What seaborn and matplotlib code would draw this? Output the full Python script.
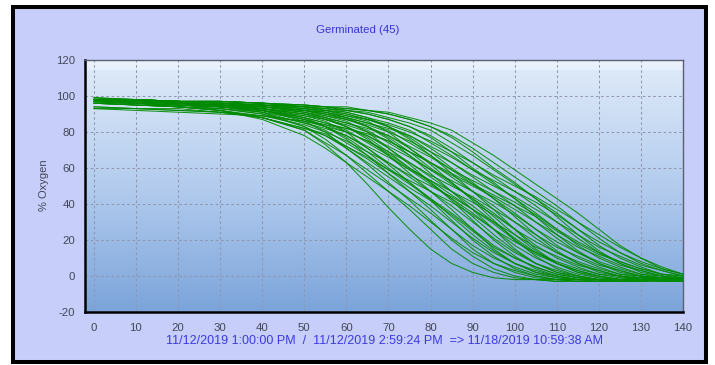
import numpy as np
import pandas as pd
import matplotlib
matplotlib.use("Agg")
import matplotlib.pyplot as plt
from matplotlib.colors import LinearSegmentedColormap
from matplotlib.patches import Rectangle
from matplotlib.ticker import MultipleLocator
import seaborn as sns

# sample times (minutes) at which the oxygen readings were taken
time_min = [0, 10, 20, 30, 40, 50, 55, 60, 65, 70, 75, 80,
            85, 90, 95, 100, 105, 110, 115, 120, 125, 130, 135, 140]

# % oxygen per seed, one row per germinated seed (45)
oxygen_curves = [
    [94, 93, 93, 91, 88, 81, 73, 63, 51, 38, 26, 15, 7, 2, -1, -2, -2, -3, -2, -2, -2, -2, -2, -2],
    [97, 97, 96, 94, 91, 83, 76, 67, 57, 47, 37, 26, 15, 7, 2, -1, -2, -3, -3, -3, -2, -2, -2, -2],
    [96, 95, 94, 92, 87, 78, 71, 63, 55, 47, 39, 30, 21, 13, 7, 3, 0, -2, -2, -2, -2, -2, -1, -1],
    [97, 97, 96, 95, 92, 86, 80, 71, 62, 52, 42, 31, 20, 11, 4, 0, -2, -2, -2, -2, -2, -2, -2, -2],
    [97, 96, 94, 92, 88, 81, 74, 67, 59, 51, 43, 35, 26, 17, 10, 5, 1, -1, -2, -3, -3, -2, -2, -2],
    [98, 97, 96, 95, 93, 88, 83, 76, 67, 57, 47, 37, 26, 15, 7, 2, -1, -2, -2, -2, -1, -1, -1, -1],
    [97, 96, 95, 93, 90, 83, 78, 71, 63, 55, 47, 39, 30, 21, 13, 7, 3, 0, -2, -2, -2, -2, -2, -2],
    [98, 97, 96, 95, 93, 89, 86, 80, 71, 62, 52, 42, 31, 20, 11, 4, 0, -2, -3, -3, -3, -3, -2, -2],
    [97, 96, 95, 94, 91, 85, 81, 74, 67, 59, 51, 43, 35, 26, 17, 10, 5, 1, -1, -2, -2, -2, -2, -2],
    [98, 97, 97, 96, 94, 91, 88, 83, 76, 67, 57, 47, 37, 26, 15, 7, 2, -1, -2, -2, -2, -1, -1, -2],
    [97, 96, 95, 94, 92, 87, 83, 78, 71, 63, 55, 47, 39, 30, 21, 13, 7, 3, 0, -2, -2, -3, -3, -3],
    [96, 95, 94, 92, 88, 82, 78, 72, 66, 59, 53, 47, 41, 34, 26, 19, 13, 8, 4, 1, 0, -2, -2, -2],
    [99, 98, 97, 96, 95, 92, 89, 86, 80, 71, 62, 52, 42, 31, 20, 11, 4, 0, -2, -2, -2, -2, -2, -1],
    [97, 97, 96, 94, 92, 88, 85, 81, 74, 67, 59, 51, 43, 35, 26, 17, 10, 5, 1, -1, -2, -2, -2, -2],
    [96, 95, 94, 92, 89, 84, 80, 75, 69, 63, 56, 50, 44, 37, 30, 23, 16, 11, 6, 3, 0, -1, -2, -2],
    [98, 98, 97, 96, 95, 93, 91, 88, 83, 76, 67, 57, 47, 37, 26, 15, 7, 2, -1, -2, -3, -3, -2, -2],
    [97, 97, 96, 95, 93, 90, 87, 83, 78, 71, 63, 55, 47, 39, 30, 21, 13, 7, 3, 0, -2, -2, -2, -2],
    [96, 95, 94, 93, 90, 85, 82, 78, 72, 66, 59, 53, 47, 41, 34, 26, 19, 13, 8, 4, 1, 0, -1, -1],
    [98, 98, 97, 96, 95, 93, 92, 89, 86, 80, 71, 62, 52, 42, 31, 20, 11, 4, 0, -2, -2, -2, -2, -2],
    [97, 97, 96, 95, 94, 91, 88, 85, 81, 74, 67, 59, 51, 43, 35, 26, 17, 10, 5, 1, -1, -2, -3, -3],
    [96, 96, 94, 93, 91, 87, 84, 80, 75, 69, 63, 56, 50, 44, 37, 30, 23, 16, 11, 6, 3, 0, -1, -2],
    [99, 98, 97, 97, 96, 94, 93, 91, 88, 83, 76, 67, 57, 47, 37, 26, 15, 7, 2, -1, -2, -2, -2, -2],
    [98, 97, 96, 95, 94, 92, 90, 87, 83, 78, 71, 63, 55, 47, 39, 30, 21, 13, 7, 3, 0, -2, -2, -2],
    [97, 96, 95, 94, 92, 88, 85, 82, 78, 72, 66, 59, 53, 47, 41, 34, 26, 19, 13, 8, 4, 1, 0, -2],
    [98, 97, 97, 96, 94, 92, 91, 88, 85, 81, 74, 67, 59, 51, 43, 35, 26, 17, 10, 5, 1, -1, -2, -2],
    [97, 96, 95, 94, 92, 89, 87, 84, 80, 75, 69, 63, 56, 50, 44, 37, 30, 23, 16, 11, 6, 3, 0, -1],
    [98, 97, 97, 96, 95, 93, 92, 90, 87, 83, 78, 71, 63, 55, 47, 39, 30, 21, 13, 7, 3, 0, -2, -2],
    [97, 96, 95, 94, 93, 90, 88, 85, 82, 78, 72, 66, 59, 53, 47, 41, 34, 26, 19, 13, 8, 4, 1, 0],
    [98, 97, 97, 96, 95, 94, 92, 91, 88, 85, 81, 74, 67, 59, 51, 43, 35, 26, 17, 10, 5, 1, -1, -2],
    [97, 96, 96, 95, 93, 91, 89, 87, 84, 80, 75, 69, 63, 56, 50, 44, 37, 30, 23, 16, 11, 6, 3, 0],
    [98, 98, 97, 96, 95, 94, 93, 92, 90, 87, 83, 78, 71, 63, 55, 47, 39, 30, 21, 13, 7, 3, 0, -2],
    [97, 97, 96, 95, 94, 92, 90, 88, 85, 82, 78, 72, 66, 59, 53, 47, 41, 34, 26, 19, 13, 8, 4, 1],
    [99, 98, 97, 97, 96, 94, 94, 92, 91, 88, 85, 81, 74, 67, 59, 51, 43, 35, 26, 17, 10, 5, 1, -1],
    [97, 97, 96, 95, 94, 92, 91, 89, 87, 84, 80, 75, 69, 63, 56, 50, 44, 37, 30, 23, 16, 10, 4, 1],
    [98, 98, 97, 97, 96, 95, 94, 93, 92, 90, 87, 83, 78, 71, 63, 55, 47, 39, 30, 21, 13, 7, 3, 0],
    [98, 98, 97, 97, 96, 95, 94, 94, 92, 91, 88, 85, 81, 74, 67, 59, 51, 43, 35, 26, 17, 10, 5, 1],
    [97, 97, 96, 94, 92, 87, 83, 77, 69, 60, 52, 43, 33, 23, 14, 7, 2, 0, -2, -2, -2, -2, -2, -2],
    [97, 97, 96, 95, 93, 90, 87, 83, 77, 69, 60, 52, 43, 33, 23, 14, 7, 2, 0, -2, -3, -3, -2, -2],
    [97, 97, 97, 96, 94, 92, 90, 87, 83, 77, 69, 60, 52, 43, 33, 23, 14, 7, 2, 0, -2, -2, -2, -2],
    [98, 97, 97, 96, 95, 93, 92, 90, 87, 83, 77, 69, 60, 52, 43, 33, 23, 14, 7, 2, 0, -2, -2, -2],
    [98, 97, 97, 97, 96, 94, 93, 92, 90, 87, 83, 77, 69, 60, 52, 43, 33, 23, 14, 7, 2, 0, -2, -2],
    [98, 98, 97, 97, 96, 95, 94, 93, 92, 90, 87, 83, 77, 69, 60, 52, 43, 33, 23, 14, 7, 2, 0, -2],
    [93, 93, 92, 91, 89, 86, 83, 80, 75, 68, 60, 53, 45, 37, 29, 20, 12, 7, 3, 0, -2, -2, -2, -2],
    [93, 92, 91, 90, 89, 86, 84, 82, 79, 75, 69, 63, 57, 51, 45, 39, 33, 25, 18, 12, 8, 4, 1, 0],
    [94, 93, 92, 91, 88, 82, 79, 72, 65, 57, 49, 42, 34, 25, 16, 10, 5, 1, -1, -2, -2, -2, -2, -2],
]

title_text = "Germinated (45)"
x_label = "11/12/2019 1:00:00 PM  /  11/12/2019 2:59:24 PM  => 11/18/2019 10:59:38 AM"
y_label = "% Oxygen"
x_ticks = list(range(0, 141, 10))
y_ticks = list(range(-20, 121, 20))

# long-form table for seaborn
rows = []
for seed, curve in enumerate(oxygen_curves):
    for t, o in zip(time_min, curve):
        rows.append({"seed": seed, "time": t, "oxygen": o})
df = pd.DataFrame(rows)

sns.set_theme(style="white")
plt.rcParams["font.family"] = ["Liberation Sans", "DejaVu Sans"]
plt.rcParams["axes.unicode_minus"] = False

fig = plt.figure(figsize=(7.15, 3.65), dpi=100, facecolor="white")

# lavender panel with black frame
frame = Rectangle((13 / 715, 3 / 365), 692.5 / 715, 355 / 365, transform=fig.transFigure,
                  facecolor="#c8cefa", edgecolor="black", linewidth=2.9, zorder=0)
fig.add_artist(frame)

ax = fig.add_axes([85 / 715, 1 - 312 / 365, 598 / 715, 252 / 365])
ax.patch.set_alpha(0)

# blue vertical gradient behind the data
grad_cmap = LinearSegmentedColormap.from_list(
    "plotbg", [(0.0, "#7ca4da"), (0.5, "#b3ccee"), (0.96, "#dde9f8"), (0.965, "#e8f1fb"), (1.0, "#eaf3fc")])
grad = np.linspace(0, 1, 256).reshape(-1, 1)
ax.imshow(grad, cmap=grad_cmap, origin="lower", aspect="auto", extent=[0, 1, 0, 1],
          transform=ax.transAxes, zorder=0)

sns.lineplot(data=df, x="time", y="oxygen", units="seed", estimator=None,
             color="#008a00", linewidth=0.75, alpha=0.9, legend=False, ax=ax, zorder=3)

ax.set_xlim(-2.1, 140)
ax.set_ylim(-20, 120)
ax.set_xticks(x_ticks)
ax.set_yticks(y_ticks)
ax.xaxis.set_minor_locator(MultipleLocator(2))
ax.grid(True, which="major", color="#9097b0", linestyle=(0, (2.5, 2.5)), linewidth=0.75)
for gl in ax.get_xgridlines() + ax.get_ygridlines():
    gl.set_zorder(1)

ax.tick_params(axis="both", which="major", direction="out", length=4, width=0.8,
               color="#50586a", labelsize=8.2, labelcolor="#404858", pad=3)
ax.tick_params(axis="x", which="minor", direction="out", length=2, width=0.6, color="#50586a")
ax.tick_params(axis="x", which="major", pad=4)
ax.set_xlabel("")
ax.set_ylabel("")

for side in ["left", "bottom"]:
    ax.spines[side].set_color("black")
    ax.spines[side].set_linewidth(1.8)
for side in ["top", "right"]:
    ax.spines[side].set_color("#5a6070")
    ax.spines[side].set_linewidth(1.0)

fig.text(0.5, 1 - 30 / 365, title_text, color="#3535d0", fontsize=8.2, ha="center", va="center")
fig.text(384 / 715, 1 - 341 / 365, x_label, color="#3a3ae0", fontsize=9, ha="center", va="center")
fig.text(44 / 715, 1 - 185 / 365, y_label, color="#404858", fontsize=8, rotation=90,
         ha="center", va="center")

fig.savefig("out.png", dpi=100)
